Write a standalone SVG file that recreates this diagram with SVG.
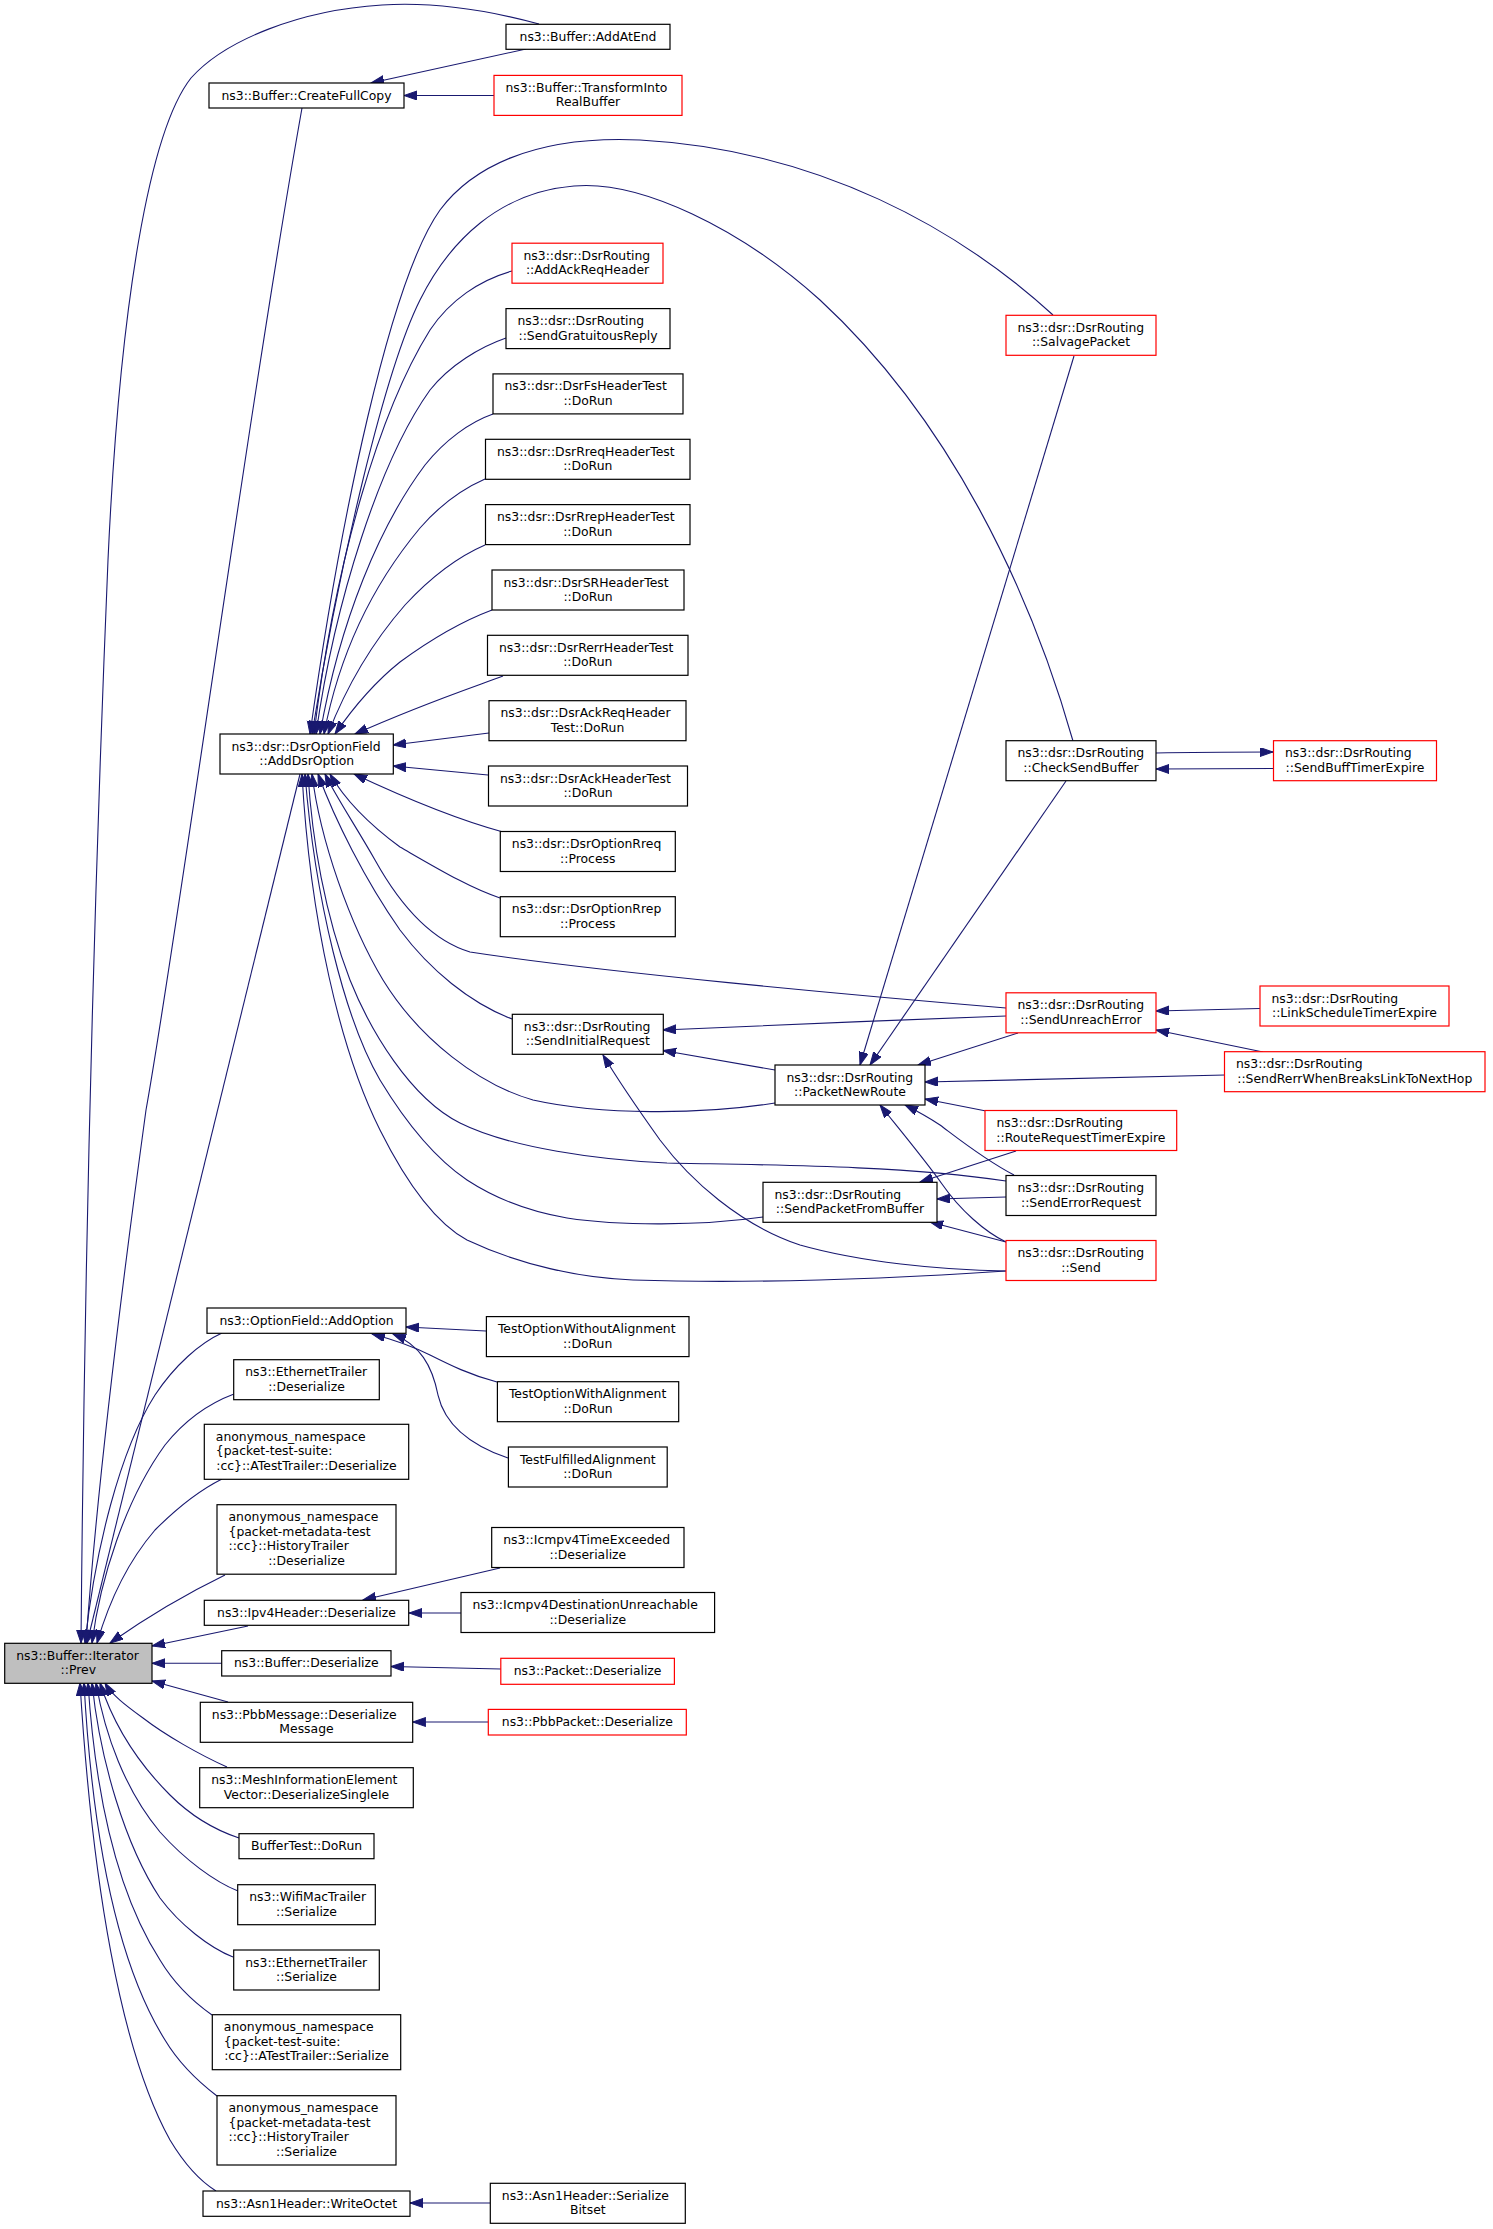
<svg xmlns="http://www.w3.org/2000/svg" width="1493" height="2229" viewBox="0 0 1493 2229">
<style>
.n rect{fill:#fff;stroke:#000;stroke-width:1.2}
.n.r rect{stroke:#f00}
.n.g rect{fill:#bfbfbf}
text{font-family:"DejaVu Sans","Liberation Sans",sans-serif;font-size:12.4px;fill:#000}
.m{text-anchor:middle}
.e path{fill:none;stroke:#191970;stroke-width:1.1;marker-end:url(#a)}
</style>
<defs>
<marker id="a" markerUnits="userSpaceOnUse" markerWidth="14" markerHeight="10" refX="13" refY="4.5" orient="auto"><path d="M0,0 L13,4.5 L0,9 z" fill="#191970" stroke="#191970" stroke-width="1"/></marker>
</defs>
<rect width="1493" height="2229" fill="#fff"/>
<g class="e" id="edges">
<path d="M539,24 C480,8 430,2 382,5 C300,10 225,40 191,78 C150,130 120,300 108,560 C98,800 85,1200 81,1643"/>
<path d="M302,108 C250,400 175,950 146,1110 C120,1300 96,1500 86,1643"/>
<path d="M526,49 L371,83"/>
<path d="M494,95.5 L404,95.5"/>
<path d="M300,774 L87,1643"/>
<path d="M1053,315 C960,230 820,150 640,140 C530,135 470,170 440,210 C390,280 340,520 310,734"/>
<path d="M1073,741 C1030,590 950,420 820,300 C740,228 640,180 574,186 C500,192 450,240 420,300 C385,370 340,560 312,734"/>
<path d="M512,271 C480,280 450,300 430,330 C380,410 335,560 314,734"/>
<path d="M506,338 C480,347 450,365 430,390 C380,460 335,600 316,734"/>
<path d="M493,414 C470,422 445,440 425,465 C380,525 340,620 320,734"/>
<path d="M485,479 C460,490 440,505 420,528 C375,582 340,650 324,734"/>
<path d="M485,545 C455,558 430,578 405,605 C370,645 345,690 328,734"/>
<path d="M492,610 C460,622 430,640 400,662 C375,682 355,705 335,734"/>
<path d="M503,676 C465,690 420,705 355,734"/>
<path d="M489,733 L393,745"/>
<path d="M488,775 L393,766"/>
<path d="M503,832 C470,823 420,805 354,774"/>
<path d="M500,898 C470,888 440,870 400,847 C370,825 345,800 330,774"/>
<path d="M1006,1008 C850,995 600,972 470,952 C430,940 400,905 375,860 C355,825 335,795 325,774"/>
<path d="M512,1019 C470,1003 430,970 400,930 C365,880 335,820 318,774"/>
<path d="M775,1103 C700,1115 600,1115 533,1100 C480,1085 420,1040 383,980 C350,925 320,840 312,774"/>
<path d="M1006,1181 C900,1165 760,1165 667,1163 C600,1160 510,1148 460,1123 C410,1098 370,1030 350,980 C325,915 312,840 308,774"/>
<path d="M763,1217 C700,1226 620,1226 567,1218 C520,1210 490,1195 467,1180 C430,1155 400,1113 380,1080 C345,1020 315,900 305,774"/>
<path d="M1006,1271 C900,1278 760,1284 633,1280 C580,1278 520,1265 467,1240 C430,1220 400,1170 380,1130 C340,1050 310,920 302,774"/>
<path d="M1074,356 L860,1065"/>
<path d="M1066,781 L870,1065"/>
<path d="M1156,753 C1200,752 1240,752 1273,752"/>
<path d="M1273,768.5 C1240,769 1200,769 1156,769"/>
<path d="M1006,1016 C900,1020 750,1026 663,1030"/>
<path d="M775,1070 L663,1050.5"/>
<path d="M1018,1033 L918,1065"/>
<path d="M1260,1008.5 L1156,1011"/>
<path d="M1263,1052 L1156,1030"/>
<path d="M1225,1075 L925,1082"/>
<path d="M986,1111 L925,1099"/>
<path d="M1014,1175 C985,1160 960,1140 940,1125 C925,1115 915,1110 905,1105"/>
<path d="M1006,1242 C985,1232 960,1210 942,1184 C925,1160 900,1130 880,1105"/>
<path d="M1006,1271 C940,1270 860,1262 800,1245 C740,1225 690,1180 660,1140 C635,1105 615,1075 603,1055"/>
<path d="M1016,1151 L920,1182"/>
<path d="M1006,1197 L937,1199"/>
<path d="M1006,1242 L930,1222"/>
<path d="M222,1333 C200,1343 175,1365 155,1395 C120,1450 95,1550 85,1643"/>
<path d="M486,1331 L406,1327"/>
<path d="M497,1382 C470,1375 450,1365 430,1355 C410,1345 395,1340 372,1334"/>
<path d="M508,1458 C470,1445 445,1425 438,1395 C432,1365 420,1345 393,1334"/>
<path d="M234,1394 C210,1403 185,1420 165,1445 C125,1500 100,1580 92,1643"/>
<path d="M222,1479 C200,1490 175,1510 155,1530 C125,1565 108,1605 97,1643"/>
<path d="M225,1575 C190,1592 150,1615 110,1643"/>
<path d="M248,1626 L152,1646"/>
<path d="M500,1568 L363,1600"/>
<path d="M461,1613 L409,1613"/>
<path d="M222,1663.3 L152,1663.3"/>
<path d="M501,1669 L391,1666.5"/>
<path d="M228,1702 L152,1681"/>
<path d="M488,1722 L412.7,1722"/>
<path d="M227,1767 C200,1755 165,1735 143,1718 C125,1705 112,1695 105,1683"/>
<path d="M239,1838 C215,1830 190,1815 170,1795 C135,1760 112,1720 100,1683"/>
<path d="M238,1891 C215,1882 185,1860 160,1832 C125,1790 105,1735 96,1683"/>
<path d="M233,1957 C210,1948 180,1925 160,1898 C125,1845 100,1760 92,1683"/>
<path d="M212,2015 C195,2003 175,1985 160,1960 C115,1890 95,1790 88,1683"/>
<path d="M217,2096 C200,2083 180,2065 165,2040 C115,1960 92,1830 84,1683"/>
<path d="M216,2191 C200,2181 185,2165 170,2140 C120,2050 92,1880 80,1683"/>
<path d="M490,2203 L410,2203"/>
</g>
<g class="n g" id="prev"><rect x="4.7" y="1643.3" width="147.3" height="40"/><text x="16.2" y="1659.8">ns3::Buffer::Iterator</text><text class="m" x="78.3" y="1674.3">::Prev</text></g>
<g class="n" id="addatend"><rect x="506" y="24.3" width="164" height="25"/><text class="m" x="588" y="40.8">ns3::Buffer::AddAtEnd</text></g>
<g class="n" id="createfullcopy"><rect x="209" y="83" width="195" height="25"/><text class="m" x="306.5" y="99.5">ns3::Buffer::CreateFullCopy</text></g>
<g class="n r" id="transform"><rect x="494" y="75.4" width="188" height="40"/><text x="505.5" y="91.9">ns3::Buffer::TransformInto</text><text class="m" x="588" y="106.4">RealBuffer</text></g>
<g class="n r" id="salvage"><rect x="1006" y="315.3" width="150" height="40"/><text x="1017.5" y="331.8">ns3::dsr::DsrRouting</text><text class="m" x="1081" y="346.3">::SalvagePacket</text></g>
<g class="n r" id="addackreq"><rect x="512" y="243.2" width="151" height="40"/><text x="523.5" y="259.7">ns3::dsr::DsrRouting</text><text class="m" x="587.5" y="274.2">::AddAckReqHeader</text></g>
<g class="n" id="gratuitous"><rect x="506" y="308.6" width="164" height="40"/><text x="517.5" y="325.1">ns3::dsr::DsrRouting</text><text class="m" x="588" y="339.6">::SendGratuitousReply</text></g>
<g class="n" id="fstest"><rect x="493" y="373.9" width="190" height="40"/><text x="504.5" y="390.4">ns3::dsr::DsrFsHeaderTest</text><text class="m" x="588" y="404.9">::DoRun</text></g>
<g class="n" id="rreqtest"><rect x="485.5" y="439.3" width="204.5" height="40"/><text x="497" y="455.8">ns3::dsr::DsrRreqHeaderTest</text><text class="m" x="587.75" y="470.3">::DoRun</text></g>
<g class="n" id="rreptest"><rect x="485.5" y="504.6" width="204.5" height="40"/><text x="497" y="521.1">ns3::dsr::DsrRrepHeaderTest</text><text class="m" x="587.75" y="535.6">::DoRun</text></g>
<g class="n" id="srtest"><rect x="492" y="570" width="192" height="40"/><text x="503.5" y="586.5">ns3::dsr::DsrSRHeaderTest</text><text class="m" x="588" y="601">::DoRun</text></g>
<g class="n" id="rerrtest"><rect x="487.5" y="635.3" width="200.5" height="40"/><text x="499" y="651.8">ns3::dsr::DsrRerrHeaderTest</text><text class="m" x="587.75" y="666.3">::DoRun</text></g>
<g class="n" id="ackreqtest"><rect x="489" y="700.7" width="197" height="40"/><text x="500.5" y="717.2">ns3::dsr::DsrAckReqHeader</text><text class="m" x="587.5" y="731.7">Test::DoRun</text></g>
<g class="n" id="acktest"><rect x="488.5" y="766" width="199" height="40"/><text x="500" y="782.5">ns3::dsr::DsrAckHeaderTest</text><text class="m" x="588" y="797">::DoRun</text></g>
<g class="n" id="optrreq"><rect x="500.3" y="831.5" width="175" height="40"/><text x="511.8" y="848">ns3::dsr::DsrOptionRreq</text><text class="m" x="587.8" y="862.5">::Process</text></g>
<g class="n" id="optrrep"><rect x="500.3" y="896.7" width="175" height="40"/><text x="511.8" y="913.2">ns3::dsr::DsrOptionRrep</text><text class="m" x="587.8" y="927.7">::Process</text></g>
<g class="n" id="adddsroption"><rect x="220" y="734" width="173.3" height="40"/><text x="231.5" y="750.5">ns3::dsr::DsrOptionField</text><text class="m" x="306.7" y="765">::AddDsrOption</text></g>
<g class="n" id="sendinitial"><rect x="512.3" y="1014.3" width="151" height="40"/><text x="523.8" y="1030.8">ns3::dsr::DsrRouting</text><text class="m" x="587.8" y="1045.3">::SendInitialRequest</text></g>
<g class="n" id="checksendbuffer"><rect x="1006" y="740.7" width="150" height="40"/><text x="1017.5" y="757.2">ns3::dsr::DsrRouting</text><text class="m" x="1081" y="771.7">::CheckSendBuffer</text></g>
<g class="n r" id="sendbufftimer"><rect x="1273.5" y="740.7" width="163" height="40"/><text x="1285" y="757.2">ns3::dsr::DsrRouting</text><text class="m" x="1355" y="771.7">::SendBuffTimerExpire</text></g>
<g class="n r" id="sendunreach"><rect x="1006" y="992.8" width="150" height="40"/><text x="1017.5" y="1009.3">ns3::dsr::DsrRouting</text><text class="m" x="1081" y="1023.8">::SendUnreachError</text></g>
<g class="n r" id="linkschedule"><rect x="1260" y="986" width="189" height="40"/><text x="1271.5" y="1002.5">ns3::dsr::DsrRouting</text><text class="m" x="1354.5" y="1017">::LinkScheduleTimerExpire</text></g>
<g class="n r" id="senderrwhen"><rect x="1224.5" y="1051.7" width="260.5" height="40"/><text x="1236" y="1068.2">ns3::dsr::DsrRouting</text><text class="m" x="1354.75" y="1082.7">::SendRerrWhenBreaksLinkToNextHop</text></g>
<g class="n" id="packetnewroute"><rect x="775" y="1065" width="150" height="40"/><text x="786.5" y="1081.5">ns3::dsr::DsrRouting</text><text class="m" x="850" y="1096">::PacketNewRoute</text></g>
<g class="n r" id="routereqtimer"><rect x="985" y="1110.5" width="191.7" height="40"/><text x="996.5" y="1127">ns3::dsr::DsrRouting</text><text class="m" x="1080.85" y="1141.5">::RouteRequestTimerExpire</text></g>
<g class="n" id="senderrorreq"><rect x="1006" y="1175.5" width="150" height="40"/><text x="1017.5" y="1192">ns3::dsr::DsrRouting</text><text class="m" x="1081" y="1206.5">::SendErrorRequest</text></g>
<g class="n" id="sendpacketfrombuffer"><rect x="763" y="1182.3" width="174" height="40"/><text x="774.5" y="1198.8">ns3::dsr::DsrRouting</text><text class="m" x="850" y="1213.3">::SendPacketFromBuffer</text></g>
<g class="n r" id="send"><rect x="1006" y="1240.5" width="150" height="40"/><text x="1017.5" y="1257">ns3::dsr::DsrRouting</text><text class="m" x="1081" y="1271.5">::Send</text></g>
<g class="n" id="addoption"><rect x="207" y="1308" width="199" height="25.3"/><text class="m" x="306.5" y="1324.5">ns3::OptionField::AddOption</text></g>
<g class="n" id="testwithout"><rect x="486.4" y="1316.6" width="202.6" height="40"/><text x="497.9" y="1333.1">TestOptionWithoutAlignment</text><text class="m" x="587.7" y="1347.6">::DoRun</text></g>
<g class="n" id="testwith"><rect x="497.4" y="1381.7" width="181.3" height="40"/><text x="508.9" y="1398.2">TestOptionWithAlignment</text><text class="m" x="588" y="1412.7">::DoRun</text></g>
<g class="n" id="testfulfilled"><rect x="508.4" y="1447" width="158.8" height="40"/><text x="519.9" y="1463.5">TestFulfilledAlignment</text><text class="m" x="587.8" y="1478">::DoRun</text></g>
<g class="n" id="ethdeser"><rect x="233.7" y="1359.7" width="145.6" height="40"/><text x="245.2" y="1376.2">ns3::EthernetTrailer</text><text class="m" x="306.5" y="1390.7">::Deserialize</text></g>
<g class="n" id="atestdeser"><rect x="204.3" y="1424.3" width="204.4" height="55"/><text x="215.8" y="1440.6">anonymous_namespace</text><text x="215.8" y="1455.1">{packet-test-suite:</text><text class="m" x="306.5" y="1469.6">:cc}::ATestTrailer::Deserialize</text></g>
<g class="n" id="historydeser"><rect x="217" y="1504.7" width="179" height="69.5"/><text x="228.5" y="1521">anonymous_namespace</text><text x="228.5" y="1535.5">{packet-metadata-test</text><text x="228.5" y="1550">::cc}::HistoryTrailer</text><text class="m" x="306.5" y="1564.5">::Deserialize</text></g>
<g class="n" id="icmptime"><rect x="491.7" y="1527.5" width="192.3" height="40"/><text x="503.2" y="1544">ns3::Icmpv4TimeExceeded</text><text class="m" x="587.85" y="1558.5">::Deserialize</text></g>
<g class="n" id="ipv4deser"><rect x="204.3" y="1600.3" width="204.4" height="25"/><text class="m" x="306.5" y="1616.8">ns3::Ipv4Header::Deserialize</text></g>
<g class="n" id="icmpdest"><rect x="461" y="1592.5" width="253.6" height="40"/><text x="472.5" y="1609">ns3::Icmpv4DestinationUnreachable</text><text class="m" x="587.8" y="1623.5">::Deserialize</text></g>
<g class="n" id="bufferdeser"><rect x="221.7" y="1650.7" width="169.3" height="25.3"/><text class="m" x="306.35" y="1667.2">ns3::Buffer::Deserialize</text></g>
<g class="n r" id="packetdeser"><rect x="500.8" y="1658.3" width="173.6" height="26"/><text class="m" x="587.6" y="1675">ns3::Packet::Deserialize</text></g>
<g class="n" id="pbbmessage"><rect x="200.3" y="1702.3" width="212.4" height="40"/><text x="211.8" y="1718.8">ns3::PbbMessage::Deserialize</text><text class="m" x="306.5" y="1733.3">Message</text></g>
<g class="n r" id="pbbpacket"><rect x="488.3" y="1709.4" width="198" height="25.6"/><text class="m" x="587.3" y="1726">ns3::PbbPacket::Deserialize</text></g>
<g class="n" id="mesh"><rect x="199.7" y="1767.7" width="213.6" height="40"/><text x="211.2" y="1784.2">ns3::MeshInformationElement</text><text class="m" x="306.5" y="1798.7">Vector::DeserializeSingleIe</text></g>
<g class="n" id="buffertest"><rect x="239" y="1833.7" width="135" height="25"/><text class="m" x="306.5" y="1850.2">BufferTest::DoRun</text></g>
<g class="n" id="wifimac"><rect x="237.7" y="1884.7" width="137.6" height="40"/><text x="249.2" y="1901.2">ns3::WifiMacTrailer</text><text class="m" x="306.5" y="1915.7">::Serialize</text></g>
<g class="n" id="ethser"><rect x="233.7" y="1950" width="145.6" height="40"/><text x="245.2" y="1966.5">ns3::EthernetTrailer</text><text class="m" x="306.5" y="1981">::Serialize</text></g>
<g class="n" id="atestser"><rect x="212.3" y="2014.7" width="188.4" height="55"/><text x="223.8" y="2031">anonymous_namespace</text><text x="223.8" y="2045.5">{packet-test-suite:</text><text class="m" x="306.5" y="2060">:cc}::ATestTrailer::Serialize</text></g>
<g class="n" id="historyser"><rect x="217" y="2095.7" width="179" height="69.3"/><text x="228.5" y="2112">anonymous_namespace</text><text x="228.5" y="2126.5">{packet-metadata-test</text><text x="228.5" y="2141">::cc}::HistoryTrailer</text><text class="m" x="306.5" y="2155.5">::Serialize</text></g>
<g class="n" id="writeoctet"><rect x="203" y="2191" width="207" height="25.3"/><text class="m" x="306.5" y="2207.5">ns3::Asn1Header::WriteOctet</text></g>
<g class="n" id="serializebitset"><rect x="490.3" y="2183.3" width="195" height="40"/><text x="501.8" y="2199.8">ns3::Asn1Header::Serialize</text><text class="m" x="587.8" y="2214.3">Bitset</text></g>
</svg>
